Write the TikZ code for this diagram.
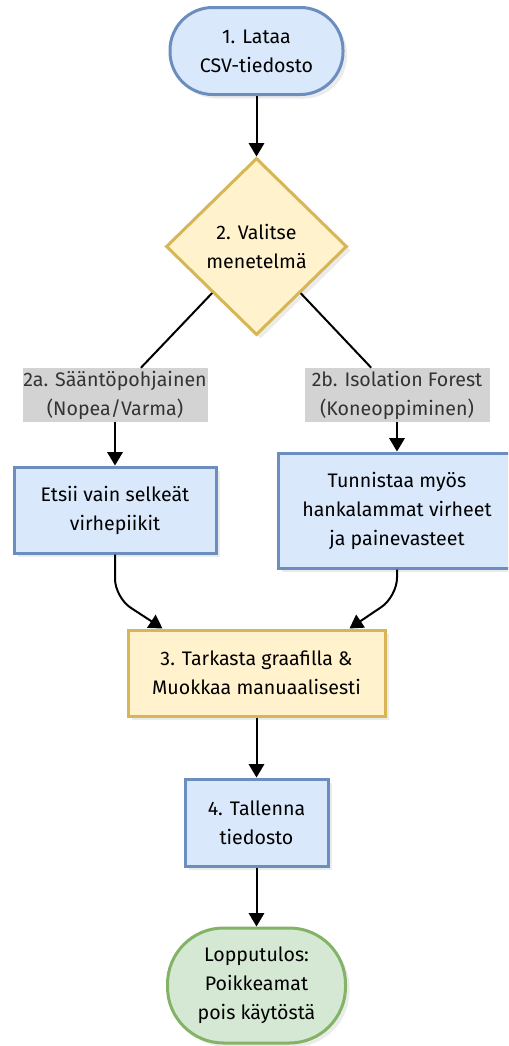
\documentclass[tikz,border=0pt]{standalone}
\usepackage{fontspec}
\setmainfont{Fira Sans}
\usetikzlibrary{shapes.geometric,arrows.meta,shadows,calc}
\definecolor{bluefill}{HTML}{DAE8FC}
\definecolor{blueline}{HTML}{6C8EBF}
\definecolor{yelfill}{HTML}{FFF2CC}
\definecolor{yelline}{HTML}{D6B656}
\definecolor{grnfill}{HTML}{D5E8D4}
\definecolor{grnline}{HTML}{82B366}
\definecolor{lblfill}{HTML}{D3D3D3}
\definecolor{lbltext}{HTML}{333333}
\tikzset{
  base/.style={line width=2.25pt, align=center, inner sep=2pt, font=\fontsize{14.7}{21.75}\selectfont,
    drop shadow={shadow xshift=3pt, shadow yshift=-3pt, fill=black!8, opacity=1}},
  bluebox/.style={base, draw=blueline, fill=bluefill, rectangle},
  yelbox/.style={base, draw=yelline, fill=yelfill, rectangle},
  startnode/.style={base, draw=blueline, fill=bluefill, rectangle, rounded corners=32pt},
  endnode/.style={base, draw=grnline, fill=grnfill, rectangle, rounded corners=42pt},
  decision/.style={base, draw=yelline, fill=yelfill, diamond, inner sep=0pt},
  edgelabel/.style={fill=lblfill, text=lbltext, align=center, inner sep=0pt, font=\fontsize{14.7}{21.75}\selectfont,
    minimum width=138.75pt, minimum height=40.5pt},
  conn/.style={line width=1.5pt, draw=black},
  arr/.style={conn, -{Triangle[length=10pt,width=11.5pt]}},
}
\begin{document}
\begin{tikzpicture}[x=0.75pt,y=-0.75pt]
\clip (0,0) rectangle (508,1046);
\fill[white] (0,0) rectangle (508,1046);
\node[startnode, minimum width=129.75pt, minimum height=65.25pt] (n1) at (256.5,51) {1. Lataa\\CSV-tiedosto};
\node[decision, minimum width=135.75pt, minimum height=132.75pt] (n2) at (256.5,246.5) {2. Valitse\\menetelmä};
\node[edgelabel] (la) at (115,395) {2a. Sääntöpohjainen\\(Nopea/Varma)};
\node[edgelabel] (lb) at (397,395) {2b. Isolation Forest\\(Koneoppiminen)};
\node[bluebox, minimum width=151.5pt, minimum height=64.5pt] (a) at (115,510) {Etsii vain selkeät\\virhepiikit};
\node[bluebox, minimum width=178.5pt, minimum height=86.25pt] (b) at (397,510.5) {Tunnistaa myös\\hankalammat virheet\\ja painevasteet};
\node[yelbox, minimum width=192.75pt, minimum height=64.5pt] (n3) at (256.5,673) {3. Tarkasta graafilla \&\\Muokkaa manuaalisesti};
\node[bluebox, minimum width=107.25pt, minimum height=65.25pt] (n4) at (256.5,822.5) {4. Tallenna\\tiedosto};
\node[endnode, minimum width=133.5pt, minimum height=86.25pt] (n5) at (256.5,985.5) {Lopputulos:\\Poikkeamat\\pois käytöstä};

\draw[arr] (n1.south) -- (n2.north);
\draw[conn] (n2) -- (la);
\draw[conn] (n2) -- (lb);
\draw[arr] (la.south) -- (a.north);
\draw[arr] (lb.south) -- (b.north);
\draw[arr, rounded corners=14pt] (a.south) -- ($(a.south)+(0,43)$) -- ($(n3.north west)+(36,0)$);
\draw[arr, rounded corners=14pt] (b.south) -- ($(b.south)+(0,27)$) -- ($(n3.north east)+(-37,0)$);
\draw[arr] (n3.south) -- (n4.north);
\draw[arr] (n4.south) -- (n5.north);
\end{tikzpicture}
\end{document}
